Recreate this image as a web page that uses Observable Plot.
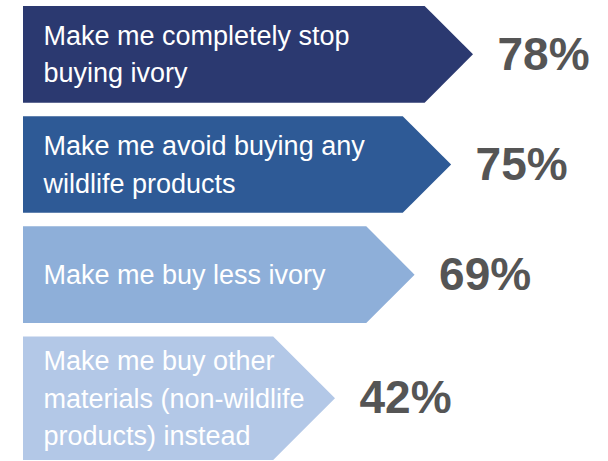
<!DOCTYPE html>
<html>
<head>
<meta charset="utf-8">
<script src="https://cdn.jsdelivr.net/npm/d3@7"></script>
<script src="https://cdn.jsdelivr.net/npm/@observablehq/plot@0.6"></script>
<style>
  html, body { margin: 0; padding: 0; background: #ffffff; }
  #chart svg { display: block; }
</style>
</head>
<body>
<div id="chart"></div>
<script>
// ---- data ----
const categories = [
  "Make me completely stop\nbuying ivory",
  "Make me avoid buying any\nwildlife products",
  "Make me buy less ivory",
  "Make me buy other\nmaterials (non-wildlife\nproducts) instead"
];
const values = [78, 75, 69, 42];
const valueLabels = ["78%", "75%", "69%", "42%"];

// ---- layout table built from the data ----
const BASE = -92.6;          // value at which every arrow starts (scale-space)
let cursor = 0;
const rows = categories.map((c, i) => {
  const lines = c.split("\n").length;
  const size = Math.max(2, lines) + 1.6;
  const r = {category: c, value: values[i], label: valueLabels[i], y1: cursor, y2: cursor + size, ym: cursor + size / 2};
  cursor += size + 0.5;
  return r;
});
const yMax = cursor - 0.5;

const font = "'Liberation Sans', Arial, sans-serif";

const chart = Plot.plot({
  width: 608,
  height: 461,
  margin: 0,
  style: {fontFamily: font, background: "#ffffff"},
  x: {type: "pow", exponent: 4, domain: [BASE, 78], range: [23, 473], axis: null},
  y: {domain: [0, yMax], range: [6, 460], axis: null},
  color: {type: "ordinal", domain: categories, range: ["#2b3970", "#2e5a96", "#8eafd9", "#b3c8e7"]},
  marks: [
    Plot.rectX(rows, {
      x1: () => BASE,
      x2: "value",
      y1: "y1",
      y2: "y2",
      fill: "category",
      render(index, scales, V, dimensions, context, next) {
        const g = d3.create("svg:g");
        for (const i of index) {
          const x1 = V.x1[i], x2 = V.x2[i], y1 = V.y1[i], y2 = V.y2[i];
          const top = Math.min(y1, y2), bot = Math.max(y1, y2);
          const h = (bot - top) / 2;
          const body = x2 - h;
          g.append("path")
            .attr("d", `M${x1},${top}L${body},${top}L${x2},${top + h}L${body},${bot}L${x1},${bot}Z`)
            .attr("fill", V.fill[i]);
        }
        return g.node();
      }
    }),
    Plot.text(rows, {
      frameAnchor: "left",
      y: "ym",
      text: "category",
      dx: 43,
      dy: -3,
      textAnchor: "start",
      lineAnchor: "middle",
      lineHeight: 1.38,
      fill: "white",
      fontSize: 27
    }),
    Plot.text(rows, {
      x: "value",
      y: "ym",
      text: "label",
      dx: 24,
      textAnchor: "start",
      fill: "#555555",
      fontSize: 46,
      fontWeight: "bold"
    })
  ]
});
document.getElementById("chart").append(chart);
</script>
</body>
</html>
